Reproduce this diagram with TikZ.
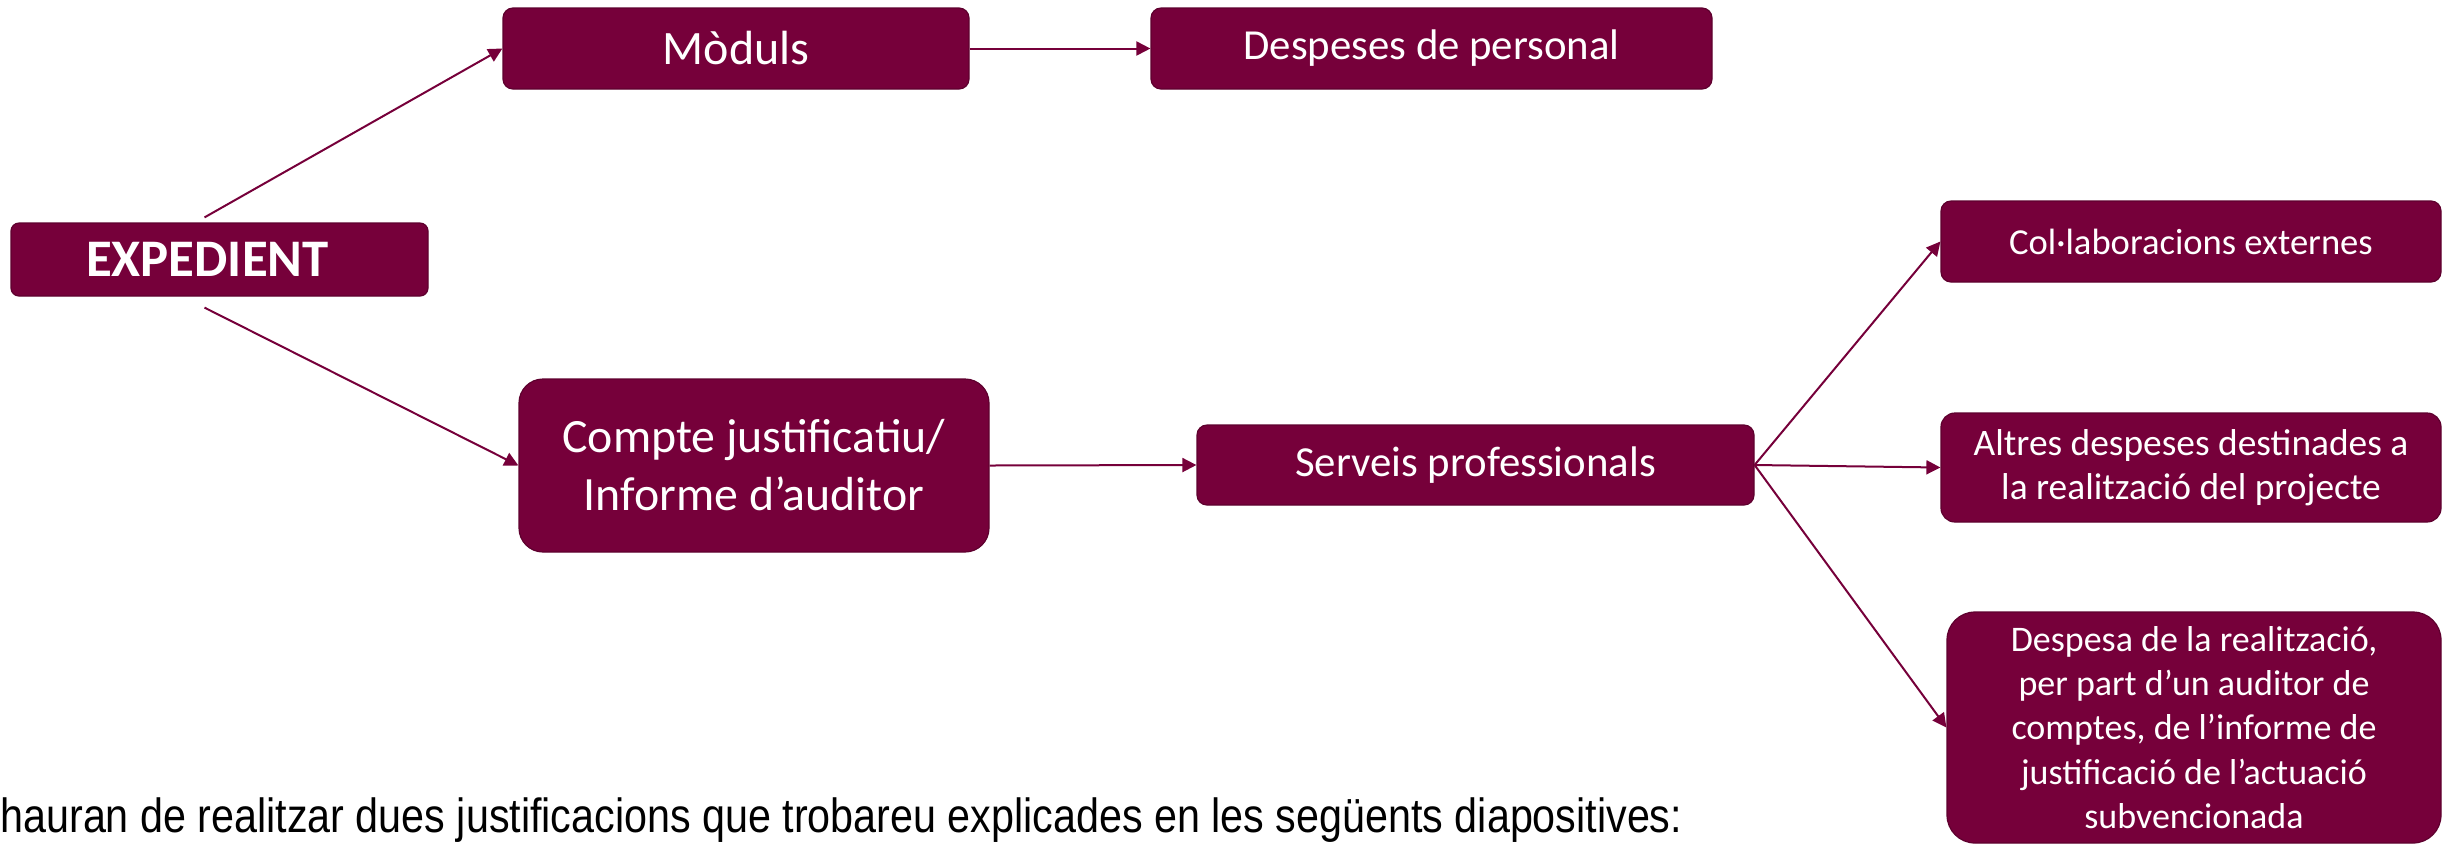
\documentclass[tikz,border=0pt]{standalone}
\usepackage{fontspec}
\usepackage{tikz}
\setmainfont{Carlito}
\newfontfamily\notefont[FakeStretch=0.86]{Liberation Sans}
\usetikzlibrary{arrows.meta}
\definecolor{maroon}{HTML}{76003A}
\definecolor{maroonedge}{HTML}{5E002E}

\begin{document}
\begin{tikzpicture}[x=0.5pt, y=-0.5pt,
    box/.style={draw=maroonedge, line width=0.6pt, fill=maroon, text=white, rounded corners=5pt, align=center, inner sep=0pt},
    arr/.style={draw=maroon, line width=1pt, -{Triangle[length=7pt,width=7pt]}}]

        \useasboundingbox (0,0) rectangle (2443,843);

        % Nodes
        \node (expedient) [box, rounded corners=4pt, text width=133.5pt, inner xsep=37.5pt, minimum height=36.5pt, align=left, font=\bfseries\fontsize{26.4}{31}\selectfont] at (219.5,259.5) {EXPEDIENT};
        \node (moduls) [box, minimum width=233pt, minimum height=40.5pt, font=\fontsize{24}{28}\selectfont] at (736,48.5) {Mòduls};
        \node (despeses) [box, minimum width=280.5pt, minimum height=40.5pt, font=\fontsize{21.4}{25}\selectfont] at (1431.5,48.5) {Despeses de personal};
        \node (compte) [box, rounded corners=12pt, minimum width=235pt, minimum height=86.5pt, font=\fontsize{23.9}{29}\selectfont] at (754,465.5) {Compte justificatiu/\\Informe d’auditor};
        \node (serveis) [box, minimum width=278.5pt, minimum height=40pt, font=\fontsize{21.4}{25}\selectfont] at (1475.5,465) {Serveis professionals};
        \node (collab) [box, minimum width=250pt, minimum height=40.5pt, font=\fontsize{18.3}{22}\selectfont] at (2191,241.5) {Col·laboracions externes};
        \node (altres) [box, rounded corners=7pt, minimum width=250pt, minimum height=54.5pt, font=\fontsize{18.7}{22}\selectfont] at (2191,467.5) {Altres despeses destinades a\\la realització del projecte};
        \node (despesa) [box, rounded corners=14pt, minimum width=247pt, minimum height=115.5pt, font=\fontsize{18}{22.2}\selectfont] at (2194,727.5) {Despesa de la realització,\\per part d’un auditor de\\comptes, de l’informe de\\justificació de l’actuació\\subvencionada};
        \node (note) [anchor=base west, inner sep=0pt, font=\notefont\fontsize{24}{28}\selectfont] at (0,832) {hauran de realitzar dues justificacions que trobareu explicades en les següents diapositives:};

        % Arrows
        \draw[arr] ([shift={(-15,-5)}]expedient.north) -- (moduls.west);
        \draw[arr] ([shift={(-15,11)}]expedient.south) -- (compte.west);
        \foreach \i/\j in {moduls/despeses, compte/serveis, serveis/collab, serveis/altres, serveis/despesa} {
            \draw[arr] (\i.east) -- (\j.west);
        }

    \end{tikzpicture}
\end{document}
